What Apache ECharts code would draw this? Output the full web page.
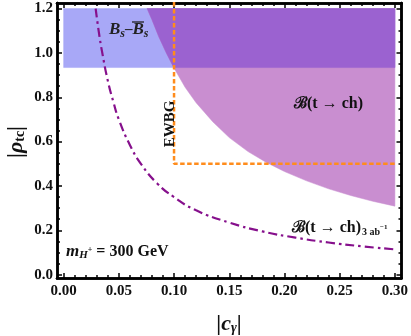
<!DOCTYPE html>
<html><head><meta charset="utf-8">
<script src="https://cdn.jsdelivr.net/npm/echarts@6/dist/echarts.min.js"></script>
<style>html,body{margin:0;padding:0;background:#fff}#c{width:411px;height:336px}</style>
</head><body><div id="c"></div>
<script>
// ---- data ----
const xTicks = [0.00, 0.05, 0.10, 0.15, 0.20, 0.25, 0.30];
const yTicks = [0.0, 0.2, 0.4, 0.6, 0.8, 1.0, 1.2];
const xMinorTicks = [0.01,0.02,0.03,0.04,0.06,0.07,0.08,0.09,0.11,0.12,0.13,0.14,0.16,0.17,0.18,0.19,0.21,0.22,0.23,0.24,0.26,0.27,0.28,0.29];
const yMinorTicks = [0.05,0.1,0.15,0.25,0.3,0.35,0.45,0.5,0.55,0.65,0.7,0.75,0.85,0.9,0.95,1.05,1.1,1.15];
// Bs-Bsbar excluded band
const bsRegion = [[0,0.934],[0.3,0.934],[0.3,1.2],[0,1.2]];
// B(t->ch) current bound boundary (region above/right of curve)
const tchCurve = [[0.0756,1.2],[0.08,1.15],[0.086,1.075],[0.093,1.0],[0.0997,0.934],[0.11,0.845],[0.12,0.775],[0.135,0.69],[0.15,0.618],[0.167,0.555],[0.184,0.505],[0.2,0.465],[0.22,0.423],[0.24,0.387],[0.26,0.357],[0.28,0.331],[0.3,0.309]];
const tchCorner = [0.3,1.2];
const overlapCorner = [[0.3,0.934],[0.3,1.2]];
// future 3 ab^-1 reach
const futureCurve = [[0.029,1.2],[0.032,1.09],[0.035,1.0],[0.04,0.875],[0.045,0.78],[0.05,0.70],[0.06,0.585],[0.07,0.50],[0.085,0.41],[0.1,0.35],[0.12,0.29],[0.15,0.235],[0.18,0.195],[0.21,0.167],[0.24,0.145],[0.27,0.128],[0.3,0.114]];
// EWBG region boundary
const ewbgLine = [[0.1,1.23],[0.1,0.5],[0.3,0.5]];

const XMIN=-0.006, XMAX=0.306, YMIN=-0.015, YMAX=1.225;
const serif = '"Liberation Serif","DejaVu Serif",serif';

function polySeries(pts, color, z){
  return {type:'custom', xAxisIndex:0, yAxisIndex:0, z:z, clip:true, silent:true,
    data:[[0,0]],
    renderItem:function(params, api){
      return {type:'polygon', shape:{points: pts.map(p=>api.coord(p)), smooth:0}, style:{fill:color, stroke:color, lineWidth:0.5}};
    }};
}

const overlapPts = tchCurve.filter(p=>p[1]>=0.934).concat(overlapCorner);
const tchPts = tchCurve.concat([tchCorner]);

function xAx(pos, vals, major, labels){
  return {type:'value', min:XMIN, max:XMAX, position:pos,
    axisLine:{show:true, onZero:false, lineStyle:{color:'#000', width:2.5}},
    axisTick:{show:true, inside:true, length: major?5:3, lineStyle:{color:'#000', width:1.5}, customValues: vals},
    axisLabel:{show:labels, customValues: vals, margin:6, fontFamily:serif, fontWeight:'bold', fontSize:15, color:'#111', formatter:v=>v.toFixed(2)},
    splitLine:{show:false}};
}
function yAx(pos, vals, major, labels){
  return {type:'value', min:YMIN, max:YMAX, position:pos,
    axisLine:{show:true, onZero:false, lineStyle:{color:'#000', width:2.5}},
    axisTick:{show:true, inside:true, length: major?5:3, lineStyle:{color:'#000', width:1.5}, customValues: vals},
    axisLabel:{show:labels, customValues: vals, margin:4, fontFamily:serif, fontWeight:'bold', fontSize:15, color:'#111', formatter:v=>v.toFixed(1)},
    splitLine:{show:false}};
}

const chart = echarts.init(document.getElementById('c'), null, {renderer:'canvas'});
chart.setOption({
  animation:false,
  backgroundColor:'#fff',
  grid:{left:57, right:9, top:3, bottom:58, containLabel:false},
  xAxis:[xAx('bottom', xTicks, true, true), xAx('bottom', xMinorTicks, false, false), xAx('top', xTicks, true, false), xAx('top', xMinorTicks, false, false)],
  yAxis:[yAx('left', yTicks, true, true), yAx('left', yMinorTicks, false, false), yAx('right', yTicks, true, false), yAx('right', yMinorTicks, false, false)],
  series:[
    polySeries(bsRegion, '#A8A8F7', 1),
    polySeries(tchPts, '#C98ED0', 2),
    polySeries(overlapPts, '#9B62D0', 3),
    {type:'line', xAxisIndex:0, yAxisIndex:0, data:futureCurve, smooth:true, symbol:'none', z:5, clip:true,
      lineStyle:{color:'#86108C', width:2.2, type:[9,4,2.5,4]}},
    {type:'line', xAxisIndex:0, yAxisIndex:0, data:ewbgLine, symbol:'none', z:6, clip:true,
      lineStyle:{color:'#FF8C1C', width:2.5, type:[4.5,2.5]}}
  ],
  graphic:[
    {type:'text', left:109, top:21, z:10, style:{rich:{
      b:{fontFamily:serif, fontStyle:'italic', fontWeight:'bold', fontSize:17, fill:'#222'},
      s:{fontFamily:serif, fontStyle:'italic', fontWeight:'bold', fontSize:12, fill:'#222', padding:[8,0,0,0]},
      d:{fontFamily:serif, fontWeight:'bold', fontSize:15, fill:'#222'}
    }, text:'{b|B}{s|s}{d|–}{b|B}{s|s}'}},
    {type:'line', z:10, shape:{x1:132, y1:22, x2:144, y2:22}, style:{stroke:'#222', lineWidth:1.3}},
    {type:'text', x:170, y:124, rotation:Math.PI/2, z:10, style:{text:'EWBG', fontFamily:serif, fontWeight:'bold', fontSize:15, fill:'#111', align:'center', verticalAlign:'middle'}},
    {type:'text', left:294, top:96, z:10, style:{text:'ℬ(t → ch)', fontFamily:serif, fontWeight:'bold', fontSize:16, fill:'#111'}},
    {type:'text', left:292, top:220, z:10, style:{rich:{
      a:{fontFamily:serif, fontWeight:'bold', fontSize:16, fill:'#111'},
      s:{fontFamily:serif, fontWeight:'bold', fontSize:10, fill:'#111', padding:[8,0,0,1]},
      t:{fontFamily:serif, fontWeight:'bold', fontSize:7, fill:'#111', padding:[0,0,2,0]}
    }, text:'{a|ℬ(t → ch)}{s|3 ab}{t|−1}'}},
    {type:'text', left:66, top:243, z:10, style:{rich:{
      m:{fontFamily:serif, fontStyle:'italic', fontWeight:'bold', fontSize:17, fill:'#111'},
      h:{fontFamily:serif, fontStyle:'italic', fontWeight:'bold', fontSize:11, fill:'#111', padding:[7,0,0,0]},
      p:{fontFamily:serif, fontWeight:'bold', fontSize:8, fill:'#111', padding:[0,0,4,0]},
      a:{fontFamily:serif, fontWeight:'bold', fontSize:16, fill:'#111'}
    }, text:'{m|m}{h|H}{p|+}{a| = 300 GeV}'}},
    {type:'text', x:16, y:142, rotation:Math.PI/2, z:10, style:{rich:{
      a:{fontFamily:serif, fontWeight:'bold', fontSize:22, fill:'#111'},
      r:{fontFamily:serif, fontStyle:'italic', fontWeight:'bold', fontSize:22, fill:'#111'},
      s:{fontFamily:serif, fontWeight:'bold', fontSize:14, fill:'#111', padding:[8,0,0,0]}
    }, text:'{a||}{r|ρ}{s|tc}{a||}', align:'center', verticalAlign:'middle'}},
    {type:'text', x:229, y:324, z:10, style:{rich:{
      a:{fontFamily:serif, fontWeight:'bold', fontSize:22, fill:'#111'},
      r:{fontFamily:serif, fontStyle:'italic', fontWeight:'bold', fontSize:22, fill:'#111'},
      s:{fontFamily:serif, fontStyle:'italic', fontWeight:'bold', fontSize:14, fill:'#111', padding:[8,0,0,0]}
    }, text:'{a||}{r|c}{s|γ}{a||}', align:'center', verticalAlign:'middle'}}
  ]
});
</script></body></html>
